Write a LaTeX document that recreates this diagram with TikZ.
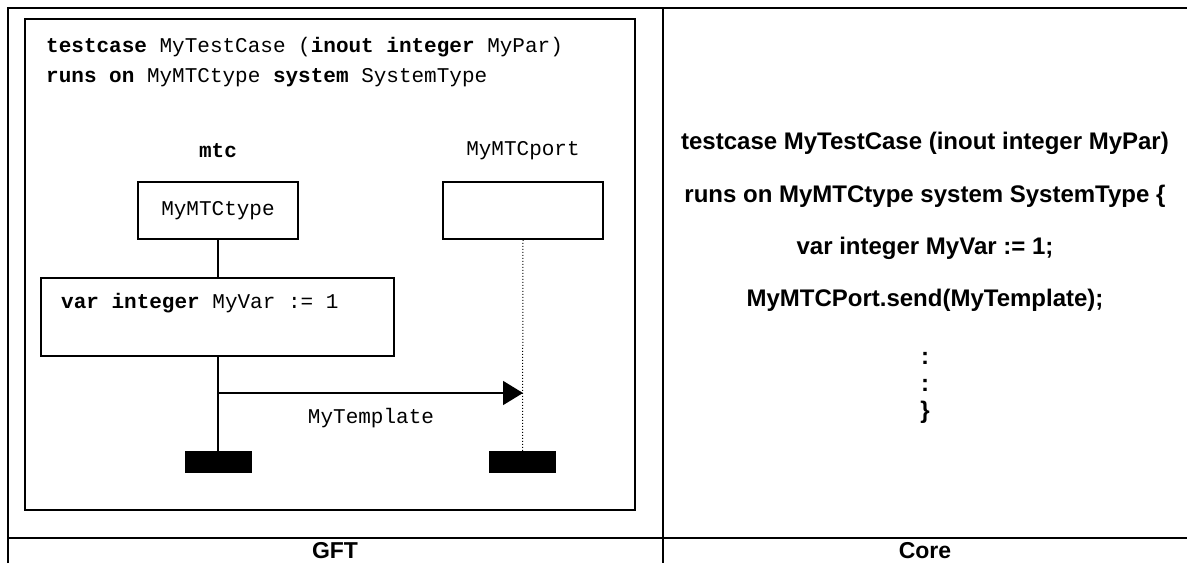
\documentclass[tikz,border=0pt]{standalone}
\usepackage{fontspec}
\setmainfont{Liberation Sans}
\setmonofont{Liberation Mono}
\usetikzlibrary{positioning, arrows.meta}

\begin{document}
\begin{tikzpicture}[x=1pt, y=-1pt,
  rule/.style={draw=black, line width=2.6pt},
  frame/.style={draw=black, line width=1.6pt},
  code/.style={font=\ttfamily\fontsize{21}{25}\selectfont, inner sep=0pt},
  instbox/.style={draw=black, line width=1.6pt, minimum width=160pt, minimum height=57pt, inner sep=0pt, font=\ttfamily\fontsize{21}{25}\selectfont},
  corecode/.style={font=\bfseries\fontsize{24}{28}\selectfont, inner sep=0pt},
  colhead/.style={font=\bfseries\fontsize{23}{27}\selectfont, inner sep=0pt},
  endbar/.style={fill=black, minimum width=67pt, minimum height=22pt, inner sep=0pt}]
\useasboundingbox (0,0) rectangle (1187,563);
% table
\draw [rule] (8,563) -- (8,8) -- (1187,8);
\draw [rule] (663,8) -- (663,563);
\draw [rule] (8,538) -- (1187,538);
\node [colhead] (gft) at (335,551) {GFT};
\node [colhead] (core) at (925,551) {Core};

% GFT side
\draw [frame] (25,19) rectangle (635,510);
\node [code, anchor=base west] (head1) at (46,52) {\textbf{testcase} MyTestCase (\textbf{inout integer} MyPar)};
\node [code, anchor=base west] (head2) at (46,82) {\textbf{runs on} MyMTCtype \textbf{system} SystemType};
\node [code] (mtc) at (218,151) {\textbf{mtc}};
\node [code] (portname) at (523,151) {MyMTCport};
\node [instbox] (mtctype) at (218,210.5) {MyMTCtype};
\node [instbox] (port) at (523,210.5) {};
\node [draw=black, line width=1.6pt, minimum width=353pt, minimum height=78pt, inner sep=0pt] (varbox) at (217.5,317) {};
\node [code, anchor=west] (vartext) at (61,303) {\textbf{var integer} MyVar := 1};
\node [endbar] (mtcend) at (218,462) {};
\node [endbar] (portend) at (522.5,462) {};
\coordinate (send) at (218,393);
\draw [line width=1.6pt] (mtctype.south) -- (mtctype.south |- varbox.north);
\draw [line width=1.6pt] (mtctype.south |- varbox.south) -- (mtcend.north);
\draw [dotted, line width=1pt] (port.south) -- (portend.north);
\draw [line width=1.6pt, -{Triangle[length=20pt, width=24pt]}] (send) -- (send -| port.south);
\node [code] (msg) at (371,418) {MyTemplate};

% Core side
\node [corecode] (c1) at (925,143) {testcase MyTestCase (inout integer MyPar)};
\node [corecode] (c2) at (925,196) {runs on MyMTCtype system SystemType \{};
\node [corecode] (c3) at (925,248) {var integer MyVar := 1;};
\node [corecode] (c4) at (925,300) {MyMTCPort.send(MyTemplate);};
\node [corecode] (c5) at (925,358) {:};
\node [corecode] (c6) at (925,385) {:};
\node [corecode] (c7) at (925,412) {\}};
\end{tikzpicture}
\end{document}
